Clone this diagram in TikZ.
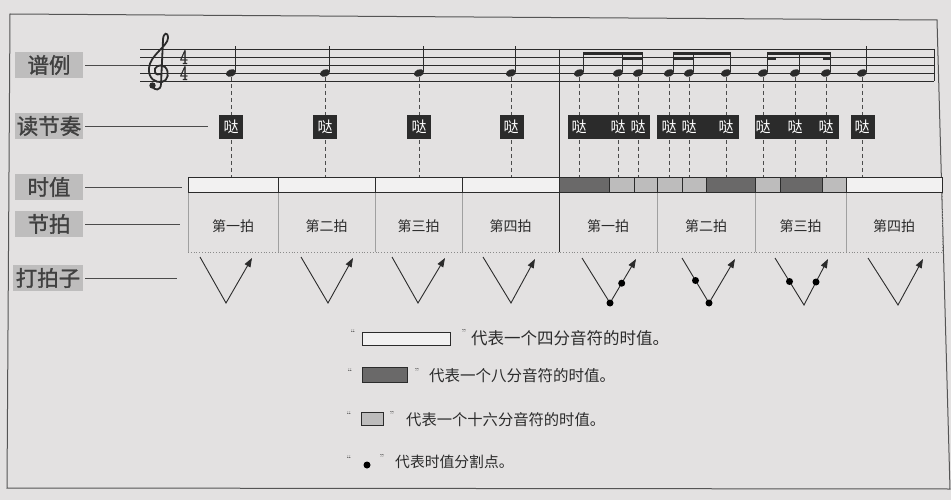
\documentclass[tikz,border=0pt]{standalone}
\usepackage{fontspec}
\usepackage{graphicx}
\newfontfamily\cjk{Noto Sans CJK SC}
\newfontfamily\cjkbold{Noto Sans CJK SC}[FakeBold=1.2]
\newfontfamily\tsfont{DejaVu Serif}[FakeBold=1.5]
\usetikzlibrary{arrows.meta,calc}
\definecolor{pagebg}{HTML}{E3E1E1}
\definecolor{ink}{HTML}{2B2B2B}
\definecolor{labelbg}{HTML}{BEBDBD}
\definecolor{eighthc}{HTML}{6A6969}
\definecolor{sixteenthc}{HTML}{BDBCBC}
\definecolor{quarterc}{HTML}{F2F1F1}
\begin{document}
\begin{tikzpicture}[x=1pt,y=-1pt,
  lab/.style={fill=labelbg, text=ink!90, font=\cjkbold\fontsize{21.5}{21.5}\selectfont, inner sep=0pt, minimum width=68pt, minimum height=26pt},
  labline/.style={draw=ink!85, line width=0.9pt, shorten <=2pt},
  staffline/.style={draw=ink, line width=0.7pt},
  stemline/.style={draw=ink, line width=0.9pt},
  beam/.style={draw=ink, line width=3pt},
  guide/.style={draw=ink!85, line width=0.9pt, dash pattern=on 4pt off 3pt},
  dabox/.style={fill=ink, draw=none, minimum height=24pt, inner sep=0pt},
  datext/.style={text=white, font=\cjk\fontsize{15}{15}\selectfont, inner sep=0pt},
  valq/.style={fill=quarterc, draw=ink, line width=1pt},
  vale/.style={fill=eighthc, draw=ink, line width=1pt},
  vals/.style={fill=sixteenthc, draw=ink, line width=1pt},
  beatsep/.style={draw=ink!45, line width=0.6pt},
  beattext/.style={text=ink, font=\cjk\fontsize{14}{14}\selectfont, inner sep=0pt},
  tapline/.style={draw=ink, line width=0.9pt, -{Triangle[length=9pt,width=6.5pt]}},
  splitdot/.style={circle, fill=black, inner sep=0pt, minimum size=7pt},
  legtext/.style={text=ink, inner sep=0pt, anchor=west},
  quotemark/.style={text=ink, font=\fontsize{10}{10}\selectfont, inner sep=0pt},
  tsdigit/.style={text=ink, font=\tsfont\fontsize{18}{18}\selectfont, inner sep=0pt}
]
\fill[pagebg] (0,0) rectangle (951,500);
\useasboundingbox (0,0) rectangle (951,500);
% frame
\draw[ink!80, line width=1pt] (10,14) -- (937,20) -- (950,489) -- (7,488) -- cycle;

% row labels
\node[lab] (lpu) at (49,65) {谱例};
\node[lab] (ldu) at (49,126) {读节奏};
\node[lab] (lshi) at (49,187) {时值};
\node[lab] (ljie) at (49,224) {节拍};
\node[lab, minimum width=70pt] (lda) at (48,278) {打拍子};
\coordinate (epu) at (140,65);
\coordinate (edu) at (208,126);
\coordinate (eshi) at (182,187);
\coordinate (ejie) at (180,224);
\coordinate (eda) at (177,278);
\draw[labline] (lpu.east) -- (epu);
\draw[labline] (ldu.east) -- (edu);
\draw[labline] (lshi.east) -- (eshi);
\draw[labline] (ljie.east) -- (ejie);
\draw[labline] (lda.east) -- (eda);

% staff
\foreach \y in {49,57,65,73,81} \draw[staffline] (140,\y) -- (934,\y);
\draw[ink, line width=1pt] (934,49) -- (934,81);
% treble clef
\fill[ink] (152.5,85.5) circle (3.2);
\draw[ink, line width=1.8pt, line cap=round]
  (152.5,86) .. controls (154,91) and (161,91) .. (161,84)
  -- (163,40)
  .. controls (163,33) and (168,31) .. (168,38)
  .. controls (168,46) and (150,55) .. (149,68)
  .. controls (148,79) and (156,83) .. (162,82)
  .. controls (168,81) and (170,72) .. (165,67)
  .. controls (160,63) and (153,67) .. (155,72)
  .. controls (156,75) and (159,75) .. (160,74);
% time signature (4/4)
\node[tsdigit] (tsa) at (184,57.3) {\scalebox{0.68}[1]{4}};
\node[tsdigit] (tsb) at (184,73.3) {\scalebox{0.68}[1]{4}};

% notes
\foreach \x [count=\i] in {231,325,419,511,579,618,638,669,689,726,763,795,826,862} {
  \coordinate (n\i) at (\x,73);
  \coordinate (b\i) at (\x,178);
  \fill[ink, rotate around={20:(n\i)}] (n\i) ellipse (5.2 and 3.6);
}
% quarter-note stems
\foreach \i in {1,2,3,4,14} \draw[stemline] ($(n\i)+(4.8,-1)$) -- ($(n\i)+(4.8,-27)$);
% beamed stems
\foreach \i in {5,...,13} \draw[stemline] ($(n\i)+(4.8,-1)$) -- ($(n\i)+(4.8,-20.5)$);
% beams
\draw[beam] (583.4,53.5) -- (643.2,53.5);
\draw[beam] (622.4,59) -- (643.2,59);
\draw[beam] (673.4,53.5) -- (731.2,53.5);
\draw[beam] (673.4,59) -- (694.2,59);
\draw[beam] (767.4,53.5) -- (831.2,53.5);
\draw[beam] (767.4,59) -- (776,59);
\draw[beam] (822.6,59) -- (831.2,59);
% measure bar line (down through beat row)
\draw[ink, line width=1pt] (559,49) -- (559,252);

% guide dashes from notes to value bar
\foreach \i in {1,...,14} \draw[guide] ($(n\i)+(0,4)$) -- (b\i);

% rhythm syllable boxes
\node[dabox, minimum width=24pt] (q1) at (231,127) {};
\node[dabox, minimum width=24pt] (q2) at (325,127) {};
\node[dabox, minimum width=24pt] (q3) at (419,127) {};
\node[dabox, minimum width=24pt] (q4) at (512,127) {};
\node[dabox, minimum width=82pt] (g1) at (609,127) {};
\node[dabox, minimum width=82pt] (g2) at (698,127) {};
\node[dabox, minimum width=84pt] (g3) at (797,127) {};
\node[dabox, minimum width=24pt] (g4) at (863,127) {};
\foreach \i in {1,...,14} \node[datext] (d\i) at ($(n\i)+(0,54)$) {哒};

% value bar
\draw[valq] (188,178) rectangle (278,193);
\draw[valq] (278,178) rectangle (375,193);
\draw[valq] (375,178) rectangle (462,193);
\draw[valq] (462,178) rectangle (559,193);
\draw[vale] (559,178) rectangle (609,193);
\draw[vals] (609,178) rectangle (634,193);
\draw[vals] (634,178) rectangle (657,193);
\draw[vals] (657,178) rectangle (682,193);
\draw[vals] (682,178) rectangle (706,193);
\draw[vale] (706,178) rectangle (755,193);
\draw[vals] (755,178) rectangle (780,193);
\draw[vale] (780,178) rectangle (822,193);
\draw[vals] (822,178) rectangle (846,193);
\draw[valq] (846,178) rectangle (942,193);

% beat row
\foreach \x in {188,278,375,462,657,755,846} \draw[beatsep] (\x,193.5) -- (\x,252);
\draw[ink!55, line width=0.8pt, dotted] (188,252) -- (942,252);
\draw[ink!55, line width=0.8pt, dotted] (942,193.5) -- (942,252);
\node[beattext] (bt1) at (233,226) {第一拍};
\node[beattext] (bt2) at (326.5,226) {第二拍};
\node[beattext] (bt3) at (418.5,226) {第三拍};
\node[beattext] (bt4) at (510.5,226) {第四拍};
\node[beattext] (bt5) at (608,226) {第一拍};
\node[beattext] (bt6) at (706,226) {第二拍};
\node[beattext] (bt7) at (800.5,226) {第三拍};
\node[beattext] (bt8) at (894,226) {第四拍};

% tapping gestures
\coordinate (v1s) at (200,257); \coordinate (v1b) at (226,303); \coordinate (v1e) at (252,258);
\coordinate (v2s) at (301,257); \coordinate (v2b) at (328,303); \coordinate (v2e) at (353,258);
\coordinate (v3s) at (392,257); \coordinate (v3b) at (418,303); \coordinate (v3e) at (445,258);
\coordinate (v4s) at (483,257); \coordinate (v4b) at (511,303); \coordinate (v4e) at (535,259);
\coordinate (v5s) at (582,258); \coordinate (v5b) at (610,303); \coordinate (v5e) at (636,259);
\coordinate (v6s) at (682,258); \coordinate (v6b) at (709,303); \coordinate (v6e) at (735,259);
\coordinate (v7s) at (775,258); \coordinate (v7b) at (804,305); \coordinate (v7e) at (828,259);
\coordinate (v8s) at (868,258); \coordinate (v8b) at (898,305); \coordinate (v8e) at (923,259);
\foreach \i in {1,...,8} \draw[tapline] (v\i s) -- (v\i b) -- (v\i e);
\node[splitdot] (p1) at (v5b) {};
\node[splitdot] (p2) at ($(v5b)!0.45!(v5e)$) {};
\node[splitdot] (p3) at ($(v6s)!0.5!(v6b)$) {};
\node[splitdot] (p4) at (v6b) {};
\node[splitdot] (p5) at ($(v7s)!0.5!(v7b)$) {};
\node[splitdot] (p6) at ($(v7b)!0.5!(v7e)$) {};

% legend
\node[quotemark] (qa1) at (353,333) {“};
\draw[valq] (362,332) rectangle (450,345);
\node[quotemark] (qa2) at (464,333) {”};
\node[legtext, font=\cjk\fontsize{16.5}{16.5}\selectfont] (la) at (471,338) {代表一个四分音符的时值。};

\node[quotemark] (qb1) at (350,372) {“};
\draw[vale] (362,367) rectangle (407,382);
\node[quotemark] (qb2) at (417,372) {”};
\node[legtext, font=\cjk\fontsize{15.5}{15.5}\selectfont] (lb) at (429,376) {代表一个八分音符的时值。};

\node[quotemark] (qc1) at (349,415) {“};
\draw[vals] (361,412) rectangle (383,425);
\node[quotemark] (qc2) at (392,415) {”};
\node[legtext, font=\cjk\fontsize{15.3}{15.3}\selectfont] (lc) at (406,420) {代表一个十六分音符的时值。};

\node[quotemark] (qd1) at (349,459) {“};
\node[splitdot] (ld) at (367,465) {};
\node[quotemark] (qd2) at (382,458) {”};
\node[legtext, font=\cjk\fontsize{14.8}{14.8}\selectfont] (le) at (395,462) {代表时值分割点。};
\end{tikzpicture}
\end{document}
